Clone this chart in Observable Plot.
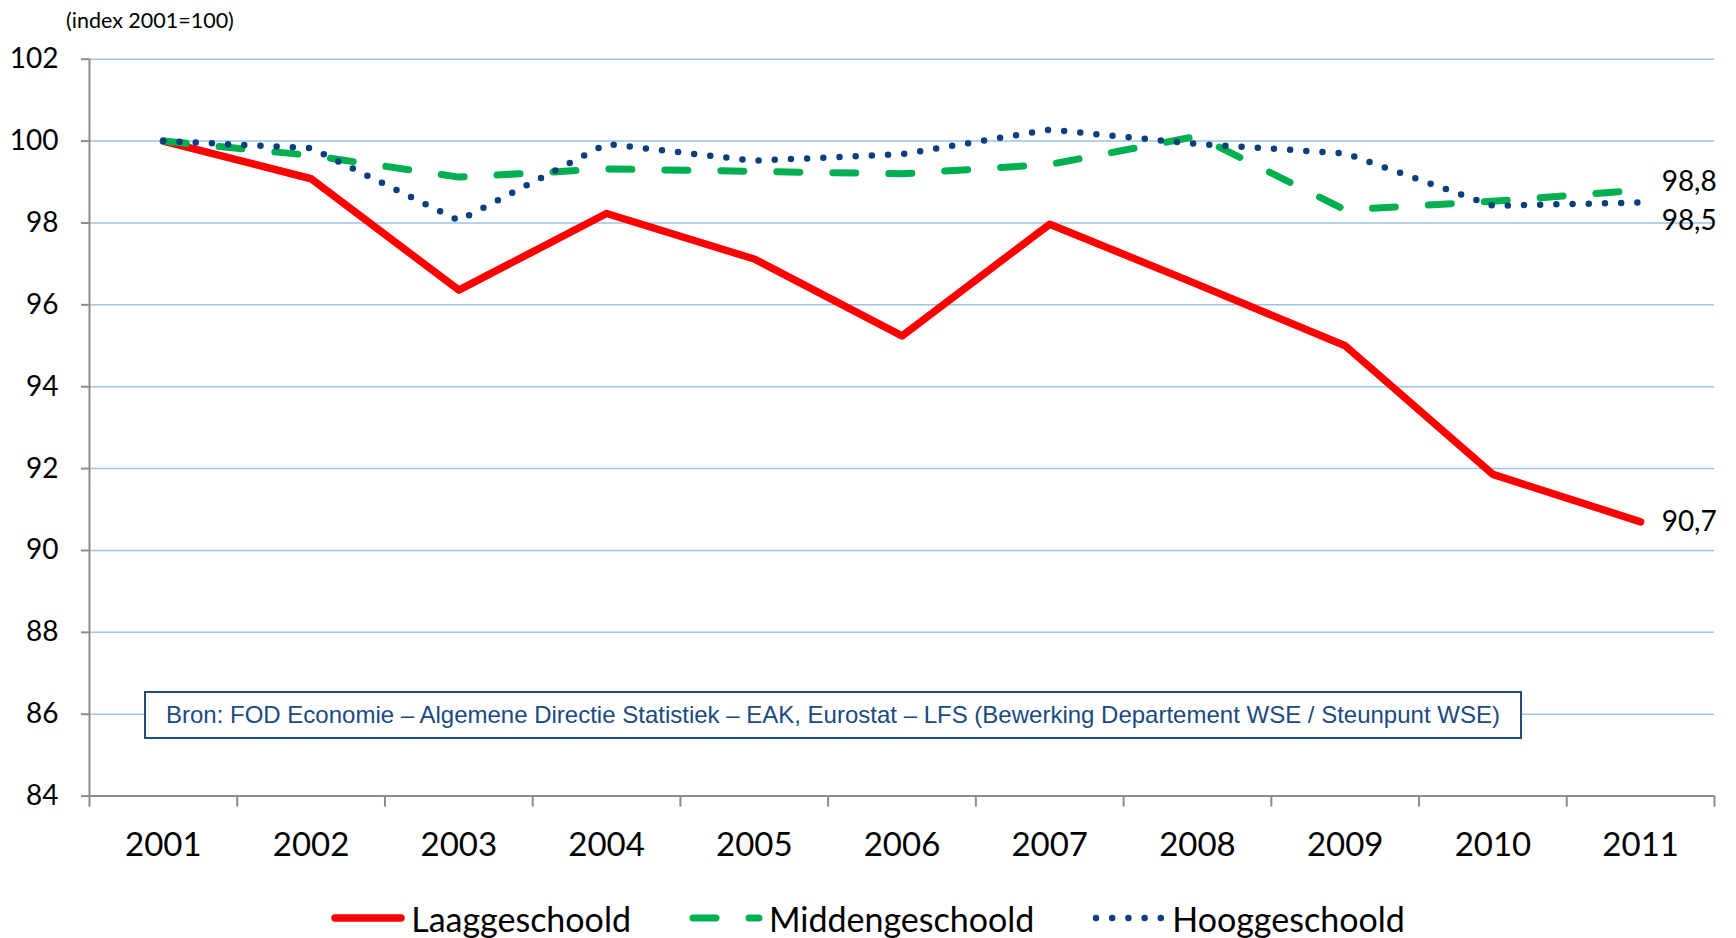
<!DOCTYPE html>
<html>
<head>
<meta charset="utf-8">
<script src="https://cdn.jsdelivr.net/npm/d3@7"></script>
<script src="https://cdn.jsdelivr.net/npm/@observablehq/plot@0.6"></script>
<style>
  html, body { margin: 0; padding: 0; background: #fff; }
  #wrap { position: relative; width: 1736px; height: 938px; overflow: hidden; font-family: Lato, "Noto Sans", sans-serif; }
  #subtitle { height: 40px; line-height: 40px; padding-left: 66px; font-size: 21.5px; color: #000; }
  #source { position: absolute; left: 144px; top: 691px; width: 1378px; height: 48px; box-sizing: border-box;
            border: 2px solid #1F4E79; background: #fff; padding-left: 20px; line-height: 44px;
            font-family: "Liberation Sans", Arial, sans-serif; font-size: 24px; color: #1B4A80; white-space: nowrap; }
  #legend { height: 40px; padding-top: 18px; display: flex; justify-content: center; align-items: center; font-size: 34px; color: #000; }
  .item { display: flex; align-items: center; margin: 0 29px; }
  .item svg { margin-right: 6px; }
</style>
</head>
<body>
<div id="wrap">
  <div id="subtitle"></div>
  <div id="chart"></div>
  <div id="legend"></div>
  <div id="source"></div>
</div>
<script>
const years = [2001, 2002, 2003, 2004, 2005, 2006, 2007, 2008, 2009, 2010, 2011];
const laaggeschoold   = [100, 99.08, 96.36, 98.23, 97.12, 95.24, 97.97, 96.5, 95.0, 91.86, 90.7];
const middengeschoold = [100, 99.65, 99.12, 99.32, 99.26, 99.2, 99.43, 100.12, 98.32, 98.53, 98.8];
const hooggeschoold   = [100, 99.83, 98.06, 99.93, 99.52, 99.68, 100.28, 99.93, 99.7, 98.42, 98.5];
const seriesNames = ["Laaggeschoold", "Middengeschoold", "Hooggeschoold"];
const yTicks = [84, 86, 88, 90, 92, 94, 96, 98, 100, 102];
const subtitle = "(index 2001=100)";
const sourceText = "Bron: FOD Economie – Algemene Directie Statistiek – EAK, Eurostat – LFS (Bewerking Departement WSE / Steunpunt WSE)";

const colors = ["#FF0000", "#00B050", "#0A3F7D"];
const styles = [
  {strokeWidth: 7.5, strokeDasharray: null, strokeLinecap: "round"},
  {strokeWidth: 7, strokeDasharray: "23,33", strokeLinecap: "round"},
  {strokeWidth: 6.5, strokeDasharray: "0,16.2", strokeLinecap: "round"}
];
const allSeries = [laaggeschoold, middengeschoold, hooggeschoold];
const rows = allSeries.map((vals, i) => years.map((y, j) => ({year: y, value: vals[j], series: seriesNames[i]})));
const boundaries = d3.range(years[0] - 0.5, years[years.length - 1] + 1, 1);
const fmt = v => v.toFixed(1).replace(".", ",");
const gray = "#8C8C8C";

document.getElementById("subtitle").textContent = subtitle;
document.getElementById("source").textContent = sourceText;

const lineMarks = rows.map((data, i) => Plot.line(data, {
  x: "year", y: "value", stroke: colors[i],
  strokeWidth: styles[i].strokeWidth,
  strokeDasharray: styles[i].strokeDasharray,
  strokeLinecap: styles[i].strokeLinecap,
  strokeLinejoin: "round"
}));

const labelDy = [0, -8, 19];
const labelMarks = rows.map((data, i) => Plot.text([data[data.length - 1]], {
  x: "year", y: "value", text: d => fmt(d.value),
  textAnchor: "start", dx: 21, dy: labelDy[i], fontSize: 28, fill: "#000"
}));

const chart = Plot.plot({
  width: 1736,
  height: 840,
  marginTop: 18.7,
  marginBottom: 84.4,
  marginLeft: 89,
  marginRight: 22,
  style: {fontFamily: "Lato, 'Noto Sans', sans-serif", background: "#fff", overflow: "visible"},
  x: {domain: [boundaries[0], boundaries[boundaries.length - 1]]},
  y: {domain: [yTicks[0], yTicks[yTicks.length - 1]]},
  marks: [
    Plot.gridY(yTicks.slice(1), {stroke: "#9DC3E6", strokeOpacity: 1, strokeWidth: 1.5}),
    Plot.axisY(yTicks, {tickSize: 8, tickPadding: 23, fontSize: 28, stroke: gray, strokeWidth: 2, label: null, tickFormat: d => String(d)}),
    Plot.axisX(years, {tickSize: 0, tickPadding: 36, fontSize: 33, label: null, tickFormat: d => String(d)}),
    Plot.axisX(boundaries, {tickSize: 11, stroke: gray, strokeWidth: 2, tickFormat: () => "", label: null}),
    Plot.ruleY([yTicks[0]], {stroke: gray, strokeWidth: 2}),
    Plot.ruleX([boundaries[0]], {stroke: gray, strokeWidth: 2}),
    ...lineMarks,
    ...labelMarks
  ]
});
document.getElementById("chart").appendChild(chart);

// legend
const legend = document.getElementById("legend");
seriesNames.forEach((name, i) => {
  const item = document.createElement("div");
  item.className = "item";
  const ns = "http://www.w3.org/2000/svg";
  const svg = document.createElementNS(ns, "svg");
  svg.setAttribute("width", 74); svg.setAttribute("height", 20);
  const ln = document.createElementNS(ns, "line");
  ln.setAttribute("x1", 4); ln.setAttribute("x2", 70);
  ln.setAttribute("y1", 10); ln.setAttribute("y2", 10);
  ln.setAttribute("stroke", colors[i]);
  ln.setAttribute("stroke-width", styles[i].strokeWidth);
  ln.setAttribute("stroke-linecap", styles[i].strokeLinecap);
  if (styles[i].strokeDasharray) ln.setAttribute("stroke-dasharray", styles[i].strokeDasharray);
  svg.appendChild(ln);
  const label = document.createElement("span");
  label.textContent = name;
  item.appendChild(svg); item.appendChild(label);
  legend.appendChild(item);
});
</script>
</body>
</html>
